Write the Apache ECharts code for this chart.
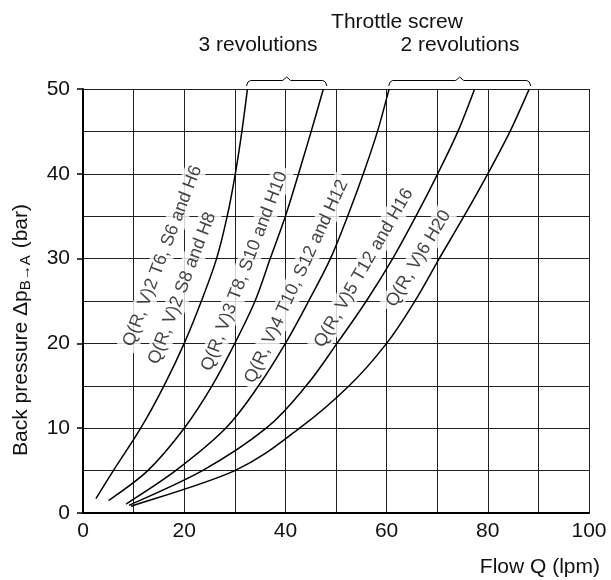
<!DOCTYPE html>
<html>
<head>
<meta charset="utf-8">
<script src="https://cdn.jsdelivr.net/npm/echarts@6/dist/echarts.min.js"></script>
<style>html,body{margin:0;padding:0;background:#fff}#c{width:611px;height:580px}</style>
</head>
<body>
<div id="c"></div>
<script>
// Back pressure (bar) levels at which each curve was read
var pA = [1.7, 5, 10, 15, 20, 25, 30, 35, 40, 45, 50];
var pB = [1.45, 5, 10, 15, 20, 25, 30, 35, 40, 45, 50];
var pC = [1.05, 5, 10, 15, 20, 25, 30, 35, 40, 45, 50];
var pD = [0.9, 5, 10, 15, 20, 25, 30, 35, 40, 45, 50];
var pE = [0.8, 5, 10, 15, 20, 25, 30, 35, 40, 45, 50];
// Flow Q (lpm) for each curve
var qSize2 = [2.55, 6, 11.4, 16, 20, 23.4, 26.4, 28.5, 30.1, 31.4, 32.5];
var qSize3 = [5.05, 12.8, 20, 25.5, 30, 34, 37, 40, 42.6, 45.1, 47.5];
var qSize4 = [8.5, 18.3, 28.2, 34.7, 40, 44.6, 48.9, 52.3, 55.4, 58.2, 60.5];
var qSize5 = [9.1, 23.6, 36.2, 44.1, 50.2, 56, 61.2, 65.8, 70.1, 74.1, 77.4];
var qSize6 = [9.5, 30, 42.8, 52.6, 60, 65.6, 70.4, 75.3, 80, 84.4, 88.2];

// Curve labels
var labelText = [
  'Q(R, V)2 T6, S6 and H6',
  'Q(R, V)2 S8 and H8',
  'Q(R, V)3 T8, S10 and H10',
  'Q(R, V)4 T10, S12 and H12',
  'Q(R, V)5 T12 and H16',
  'Q(R, V)6 H20'
];
var labelQ = [15.7, 19.6, 31.9, 42.2, 55.5, 66.3];
var labelP = [30.3, 26.5, 28.5, 27.3, 28.9, 30.0];
var labelAngle = [69, 69, 69, 65, 60, 59];

// Throttle screw brackets (flow range covered)
var bracketFrom = [32.3, 60.4];
var bracketTo = [48.2, 88.5];
var bracketText = ['3 revolutions', '2 revolutions'];
var topTitle = 'Throttle screw';

var FONT = '"Liberation Sans", Arial, Helvetica, sans-serif';
var INK = '#111';

function pairs(q, p) { return q.map(function (v, i) { return [v, p[i]]; }); }

var curves = [pairs(qSize2, pA), pairs(qSize3, pB), pairs(qSize4, pC), pairs(qSize5, pD), pairs(qSize6, pE)];

// Smooth curve through the data points (Catmull-Rom -> cubic Bezier), mapped with the chart's own scales
function curveSeries(pts) {
  return {
    type: 'custom', silent: true, z: 5, clip: true,
    data: pts,
    encode: { x: 0, y: 1 },
    renderItem: function (params, api) {
      if (params.dataIndex !== 0) return null;
      var P = pts.map(function (d) { return api.coord(d); });
      var n = P.length;
      var s = 'M' + P[0][0] + ' ' + P[0][1];
      for (var i = 0; i < n - 1; i++) {
        var p0 = P[Math.max(i - 1, 0)], p1 = P[i], p2 = P[i + 1], p3 = P[Math.min(i + 2, n - 1)];
        var c1x = p1[0] + (p2[0] - p0[0]) / 6, c1y = p1[1] + (p2[1] - p0[1]) / 6;
        var c2x = p2[0] - (p3[0] - p1[0]) / 6, c2y = p2[1] - (p3[1] - p1[1]) / 6;
        s += ' C' + c1x + ' ' + c1y + ' ' + c2x + ' ' + c2y + ' ' + p2[0] + ' ' + p2[1];
      }
      return { type: 'path', shape: { pathData: s }, style: { stroke: '#000', lineWidth: 1.5, fill: null } };
    }
  };
}

var series = curves.map(curveSeries);

series.push({
  type: 'scatter', symbolSize: 0, z: 3, silent: true,
  data: labelText.map(function (t, i) {
    return { value: [labelQ[i], labelP[i]], name: t, label: { rotate: labelAngle[i] } };
  }),
  label: {
    show: true, position: 'inside', formatter: function (p) { return p.name; },
    fontFamily: FONT, fontSize: 18, color: INK, textBorderWidth: 0, textShadowBlur: 0,
    backgroundColor: '#fff', padding: [2, 5]
  }
});

series.push({
  type: 'custom', clip: false, silent: true, z: 6,
  data: bracketFrom.map(function (f, i) { return [f, bracketTo[i], 50, i]; }),
  encode: { x: [0, 1], y: 2 },
  renderItem: function (params, api) {
    var a = api.coord([api.value(0), api.value(2)]);
    var b = api.coord([api.value(1), api.value(2)]);
    var y0 = a[1];
    var mid = (a[0] + b[0]) / 2;
    var idx = api.value(3);
    return {
      type: 'group',
      children: [{
        type: 'polyline',
        shape: { points: [[a[0], y0 - 3], [a[0] + 1.5, y0 - 7], [a[0] + 4, y0 - 8.5], [mid - 4, y0 - 8.5], [mid, y0 - 12], [mid + 4, y0 - 8.5], [b[0] - 4, y0 - 8.5], [b[0] - 1.5, y0 - 7], [b[0], y0 - 3]] },
        style: { stroke: '#000', lineWidth: 1, fill: null }
      }, {
        type: 'text',
        style: { text: bracketText[idx], x: idx === 0 ? 258 : 460, y: 45, align: 'center', verticalAlign: 'middle', font: '21px ' + FONT, fill: INK }
      }]
    };
  }
});

var chart = echarts.init(document.getElementById('c'), null, { renderer: 'canvas' });
chart.setOption({
  animation: false,
  backgroundColor: '#fff',
  title: {
    text: topTitle, left: 392, top: 7, textAlign: 'center',
    textStyle: { fontFamily: FONT, fontSize: 21, fontWeight: 'normal', color: INK }
  },
  grid: { left: 83, right: 22, top: 89, bottom: 67, containLabel: false },
  xAxis: {
    type: 'value', min: 0, max: 100, interval: 10,
    name: 'Flow Q (lpm)', nameLocation: 'end', nameGap: 11,
    nameTextStyle: { fontFamily: FONT, fontSize: 21, color: INK, align: 'right', verticalAlign: 'top', padding: [44, 0, 0, 0] },
    axisLine: { show: true, onZero: false, lineStyle: { color: '#000', width: 2 } },
    axisTick: { show: false },
    axisLabel: {
      fontFamily: FONT, fontSize: 21, color: INK, margin: 8,
      formatter: function (v) { return v % 20 === 0 ? String(v) : ''; }
    },
    splitLine: { show: true, lineStyle: { color: '#222', width: 1 } }
  },
  yAxis: {
    type: 'value', min: 0, max: 50, interval: 10,
    name: 'Back pressure Δp{s|B→A} (bar)', nameLocation: 'middle', nameGap: 50, nameRotate: 90,
    nameTextStyle: { fontFamily: FONT, fontSize: 21, color: INK, lineHeight: 24, padding: [0, 58, 0, 0], rich: { s: { fontFamily: FONT, fontSize: 15, color: INK, verticalAlign: 'bottom', lineHeight: 24, padding: [7, 1, 0, 0] } } },
    axisLine: { show: true, onZero: false, lineStyle: { color: '#000', width: 2 } },
    axisTick: { show: true, length: 6, lineStyle: { color: '#000', width: 1.5 } },
    minorTick: { show: false, splitNumber: 2 },
    minorSplitLine: { show: true, lineStyle: { color: '#222', width: 1 } },
    axisLabel: { fontFamily: FONT, fontSize: 21, color: INK, margin: 13 },
    splitLine: { show: true, lineStyle: { color: '#222', width: 1 } }
  },
  series: series
});
</script>
</body>
</html>
